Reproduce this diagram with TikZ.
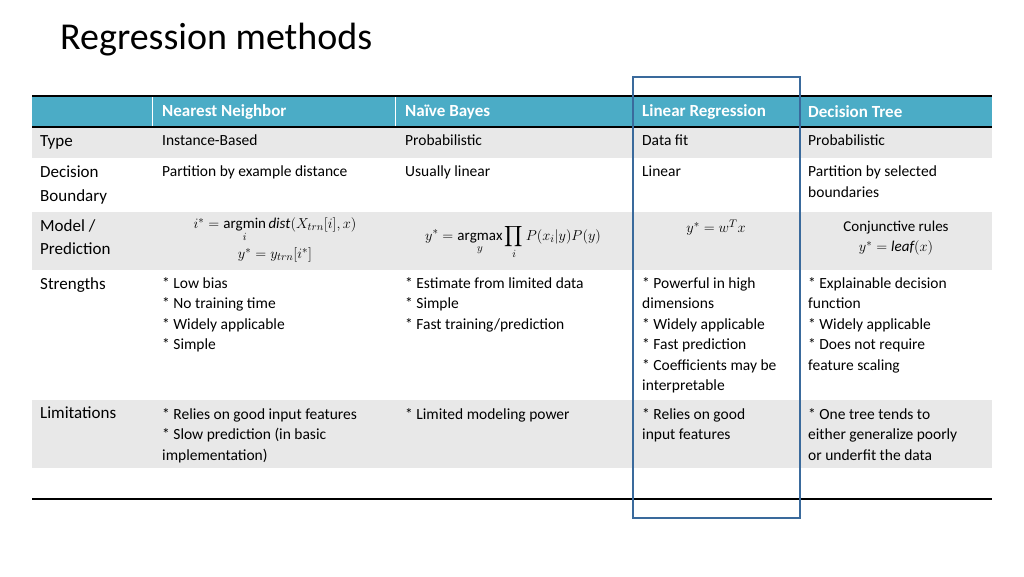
\documentclass[tikz,border=0pt]{standalone}
\usepackage{amsmath}
\usepackage{fontspec}
\setmainfont{Carlito}
\begin{document}
\begin{tikzpicture}[x=1pt,y=-1pt,
  txt/.style={anchor=north west,inner sep=0pt,font=\fontsize{15.5}{20.5}\selectfont,align=left},
  lbl/.style={anchor=north west,inner sep=0pt,font=\fontsize{17}{23.5}\selectfont,align=left},
  hdr/.style={anchor=west,inner sep=0pt,font=\fontsize{17}{19}\selectfont\bfseries,text=white},
  mth/.style={inner sep=0pt,font=\fontsize{15}{17}\selectfont}]
\useasboundingbox (0,0) rectangle (1024,576);
\definecolor{hblue}{HTML}{4BACC6}
\definecolor{rgray}{HTML}{E8E8E8}
\definecolor{hlbox}{HTML}{3A6A9C}
\node[anchor=west,inner sep=0pt,font=\fontsize{38}{42}\selectfont] (title) at (60,40) {Regression methods};
\fill[hblue] (32,96) rectangle (992,127);
\foreach \x in {152,395,632,800} \draw[white,line width=0.8pt] (\x,96) -- (\x,127);
\fill[rgray] (32,127) rectangle (992,158);
\fill[rgray] (32,212) rectangle (992,270);
\fill[rgray] (32,400) rectangle (992,468);
\draw[line width=1.6pt] (32,96) -- (992,96);
\draw[line width=1.6pt] (32,127) -- (992,127);
\draw[line width=1.6pt] (32,499) -- (992,499);
\node[hdr] (h1) at (162,112) {Nearest Neighbor};
\node[hdr] (h2) at (405,112) {Naïve Bayes};
\node[hdr] (h3) at (642,112) {Linear Regression};
\node[hdr] (h4) at (808,112) {Decision Tree};
% row labels
\node[lbl] (l1) at (40,135) {Type};
\node[lbl] (l2) at (40,166) {Decision\\Boundary};
\node[lbl] (l3) at (40,219) {Model /\\Prediction};
\node[lbl] (l4) at (40,277) {Strengths};
\node[lbl] (l5) at (40,407) {Limitations};
% type
\node[txt] (t1) at (162,135) {Instance-Based};
\node[txt] (t2) at (405,135) {Probabilistic};
\node[txt] (t3) at (642,135) {Data fit};
\node[txt] (t4) at (808,135) {Probabilistic};
% boundary
\node[txt] (b1) at (162,166) {Partition by example distance};
\node[txt] (b2) at (405,166) {Usually linear};
\node[txt] (b3) at (642,166) {Linear};
\node[txt] (b4) at (808,166) {Partition by selected\\boundaries};
% model
\node[mth] (m1a) at (275,230) {$i^* = \displaystyle\operatorname*{argmin}_i \mathit{dist}(X_{trn}[i],x)$};
\node[mth] (m1b) at (275,255) {$y^* = y_{trn}[i^*]$};
\node[mth] (m2) at (513,242) {$y^* = \displaystyle\operatorname*{argmax}_y \prod_i P(x_i|y)P(y)$};
\node[mth] (m3) at (716,228) {$y^* = w^T x$};
\node[mth] (m4a) at (896,228) {Conjunctive rules};
\node[mth] (m4b) at (896,248) {$y^* = \mathit{leaf}(x)$};
% strengths
\node[txt] (s1) at (162,277) {* Low bias\\* No training time\\* Widely applicable\\* Simple};
\node[txt] (s2) at (405,277) {* Estimate from limited data\\* Simple\\* Fast training/prediction};
\node[txt] (s3) at (642,277) {* Powerful in high\\dimensions\\* Widely applicable\\* Fast prediction\\* Coefficients may be\\interpretable};
\node[txt] (s4) at (808,277) {* Explainable decision\\function\\* Widely applicable\\* Does not require\\feature scaling};
% limitations
\node[txt] (x1) at (162,408) {* Relies on good input features\\* Slow prediction (in basic\\implementation)};
\node[txt] (x2) at (405,408) {* Limited modeling power};
\node[txt] (x3) at (642,408) {* Relies on good\\input features};
\node[txt] (x4) at (808,408) {* One tree tends to\\either generalize poorly\\or underfit the data};
\draw[hlbox,line width=2.5pt] (633,77) rectangle (800,518);
\end{tikzpicture}
\end{document}
